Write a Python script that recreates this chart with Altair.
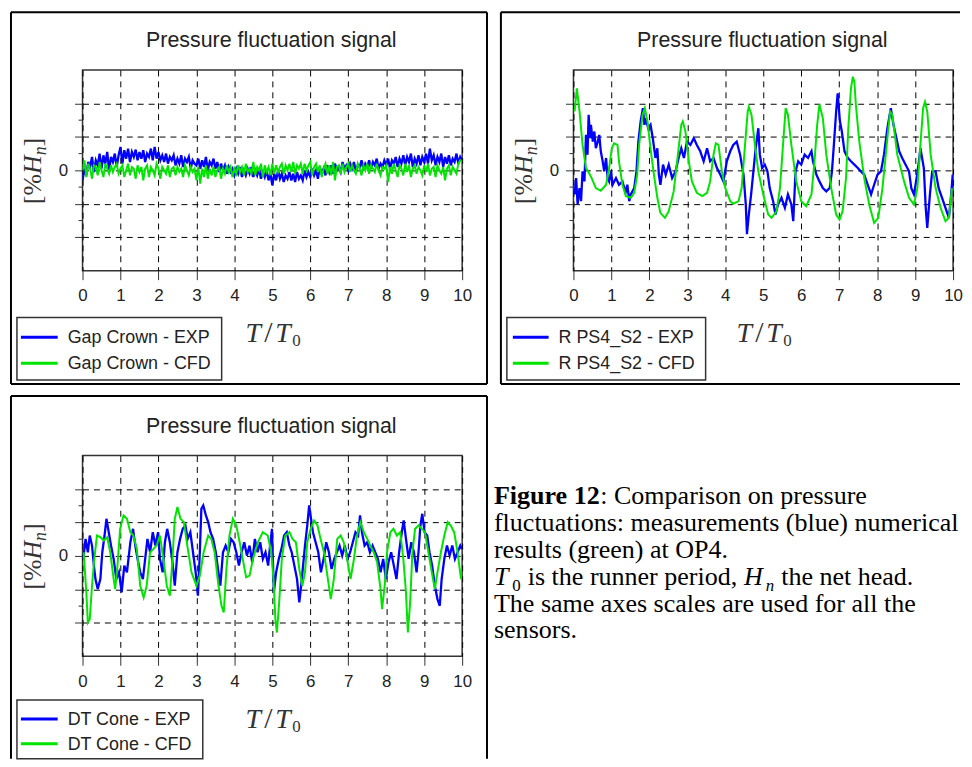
import altair as alt
import pandas as pd

BLUE = "#0000ff"
GREEN = "#00e400"
INK = "#222222"
SANS = "Liberation Sans"
SERIF = "Liberation Serif"
W, H = 382, 202

X_TICKS = [0, 1, 2, 3, 4, 5, 6, 7, 8, 9, 10]
Y_TICKS = [-2, -1, 0, 1, 2]
Y_MINOR = [-1.5, -0.5, 0.5, 1.5]
X_DOMAIN = [0, 10]
Y_DOMAIN = [-3, 3]
TITLE = "Pressure fluctuation signal"

# ---------------- Gap Crown (sampled every 0.05 T/T0) ----------------
GC_T = [round(0.05 * i, 2) for i in range(201)]
GC_EXP = [
    -0.30, 0.05, -0.15, 0.25, 0.10, 0.40, -0.05, 0.30, 0.15, 0.50,
    0.05, 0.45, 0.20, 0.55, 0.00, 0.40, 0.25, 0.50, 0.10, 0.45,
    0.70, 0.20, 0.60, 0.35, 0.65, 0.25, 0.55, 0.40, 0.62, 0.30,
    0.55, 0.35, 0.60, 0.25, 0.50, 0.40, 0.65, 0.30, 0.70, 0.35,
    0.55, 0.30, 0.45, 0.25, 0.50, 0.20, 0.40, 0.30, 0.45, 0.15,
    0.35, 0.20, 0.45, 0.10, 0.35, 0.25, 0.40, 0.05, 0.30, 0.20,
    0.15, 0.35, 0.05, 0.30, 0.10, 0.40, 0.00, 0.25, 0.15, 0.35,
    0.05, 0.25, -0.05, 0.20, 0.00, 0.15, -0.10, 0.10, -0.05, 0.05,
    -0.15, 0.05, -0.10, 0.10, -0.20, 0.00, -0.15, 0.05, -0.10, 0.10,
    -0.20, 0.00, -0.15, 0.05, -0.25, -0.05, -0.20, 0.00, -0.30, -0.10,
    -0.45, -0.10, -0.30, 0.00, -0.25, -0.10, -0.35, -0.15, -0.25, -0.05,
    -0.30, -0.10, -0.35, -0.05, -0.25, -0.15, -0.30, 0.00, -0.20, -0.05,
    -0.20, 0.05, -0.15, 0.00, -0.25, 0.10, -0.10, 0.05, -0.15, 0.15,
    -0.05, 0.15, -0.10, 0.20, 0.00, 0.10, -0.05, 0.25, 0.05, 0.15,
    0.00, 0.20, 0.05, 0.25, -0.05, 0.15, 0.10, 0.30, 0.00, 0.20,
    0.10, 0.30, 0.05, 0.25, 0.15, 0.35, 0.05, 0.20, 0.10, 0.30,
    0.15, 0.35, 0.05, 0.30, 0.20, 0.40, 0.10, 0.35, 0.20, 0.45,
    0.15, 0.40, 0.25, 0.50, 0.10, 0.35, 0.20, 0.45, 0.15, 0.40,
    0.25, 0.50, 0.20, 0.65, 0.30, 0.45, 0.15, 0.40, 0.25, 0.50,
    0.10, 0.40, 0.20, 0.45, 0.15, 0.35, 0.25, 0.50, 0.20, 0.40,
    0.30,
]
GC_CFD = [
    0.00, 0.30, -0.20, 0.20, 0.05, -0.25, 0.15, 0.10, -0.15, 0.25,
    0.00, -0.20, 0.20, 0.05, -0.10, 0.15, -0.05, 0.10, 0.20, -0.10,
    0.05, 0.15, -0.20, 0.00, 0.20, -0.15, 0.10, 0.05, -0.25, 0.15,
    -0.05, 0.10, -0.30, 0.05, 0.15, -0.20, 0.10, 0.00, -0.15, 0.20,
    0.05, -0.25, 0.10, 0.00, -0.10, 0.15, -0.20, 0.05, 0.10, -0.15,
    0.10, -0.05, 0.05, -0.20, 0.15, 0.00, -0.15, 0.10, -0.05, 0.05,
    -0.30, 0.10, -0.40, 0.05, -0.20, 0.15, -0.25, 0.05, -0.15, 0.10,
    -0.20, 0.00, 0.10, -0.25, 0.05, -0.10, 0.15, -0.05, 0.10, -0.20,
    0.05, -0.10, 0.15, -0.05, 0.10, -0.15, 0.20, -0.05, 0.05, -0.10,
    0.25, -0.15, 0.10, 0.00, 0.20, -0.20, 0.15, -0.05, 0.10, -0.15,
    0.20, -0.10, 0.15, -0.05, 0.10, 0.20, -0.10, 0.15, 0.00, 0.20,
    -0.05, 0.25, -0.10, 0.15, 0.05, 0.20, -0.10, 0.20, 0.00, 0.15,
    0.25, -0.15, 0.10, 0.20, -0.05, 0.15, -0.20, 0.05, 0.20, -0.10,
    0.15, -0.15, 0.25, -0.30, 0.10, 0.15, -0.10, 0.20, -0.05, 0.10,
    0.20, -0.05, 0.15, 0.00, -0.10, 0.20, 0.05, -0.15, 0.15, 0.00,
    0.20, -0.10, 0.15, 0.05, -0.05, 0.20, 0.00, -0.15, 0.10, 0.05,
    0.15, -0.35, 0.10, -0.10, 0.20, 0.00, -0.20, 0.15, 0.05, -0.15,
    0.20, -0.05, 0.15, -0.20, 0.05, 0.15, -0.10, 0.10, 0.00, -0.15,
    0.15, -0.05, 0.20, -0.15, 0.05, 0.10, -0.20, 0.15, 0.00, -0.10,
    0.10, -0.30, 0.05, 0.15, -0.15, 0.10, 0.00, -0.10, 0.20, 0.30,
    0.25,
]

# ---------------- R PS4_S2 ----------------
RP_EXP_T = [
    0.03, 0.07, 0.11, 0.16, 0.20, 0.24, 0.29, 0.33, 0.37, 0.40, 0.44, 0.46, 0.51, 0.55,
    0.59, 0.64, 0.68, 0.72, 0.77, 0.81, 0.86, 0.90, 0.94, 0.99, 1.03, 1.12, 1.20, 1.29,
    1.34, 1.38, 1.42, 1.47, 1.51, 1.60, 1.66, 1.71, 1.77, 1.83, 1.87, 1.90, 1.97, 2.03,
    2.09, 2.16, 2.21, 2.25, 2.29, 2.36, 2.43, 2.51, 2.60, 2.69, 2.77, 2.84, 2.91, 2.99,
    3.08, 3.17, 3.25, 3.34, 3.43, 3.52, 3.60, 3.69, 3.78, 3.87, 3.95, 4.04, 4.13, 4.21,
    4.30, 4.39, 4.48, 4.54, 4.57, 4.62, 4.68, 4.74, 4.80, 4.87, 4.91, 4.97, 5.04, 5.11,
    5.17, 5.26, 5.32, 5.39, 5.48, 5.57, 5.65, 5.74, 5.79, 5.85, 5.92, 6.00, 6.09, 6.18,
    6.27, 6.31, 6.40, 6.48, 6.57, 6.66, 6.75, 6.81, 6.86, 6.92, 6.96, 7.02, 7.07, 7.14,
    7.23, 7.31, 7.40, 7.49, 7.57, 7.66, 7.75, 7.84, 7.92, 8.01, 8.10, 8.18, 8.27, 8.36,
    8.43, 8.49, 8.58, 8.66, 8.75, 8.84, 8.90, 8.97, 9.04, 9.10, 9.14, 9.23, 9.28, 9.32,
    9.39, 9.45, 9.54, 9.62, 9.71, 9.80, 9.89, 9.95, 9.99,
]
RP_EXP_V = [
    -0.72, -0.23, -1.02, -0.53, -0.92, -0.03, -0.33, 1.06, 0.47, 1.66, 0.96, 1.36, 0.86, 1.16,
    0.66, 0.86, 1.06, 0.57, 0.27, -0.03, 0.37, -0.23, -0.33, -0.03, -0.43, -0.23, -0.43, -0.33,
    -0.53, -0.63, -0.43, -0.92, -0.72, -0.53, -0.03, 0.86, 1.46, 1.86, 1.36, 1.56, 1.26, 1.36,
    0.96, 0.37, 0.66, -0.13, -0.43, 0.17, -0.13, 0.17, -0.23, -0.03, 0.37, 0.66, 0.37, 0.86,
    0.76, 0.96, 0.76, 0.57, 0.27, 0.66, 0.27, 0.37, 0.07, -0.13, -0.33, 0.27, 0.57, 0.76,
    0.86, 0.47, -0.13, -1.02, -1.91, -1.32, -0.72, -0.03, 0.66, 1.26, 0.47, 0.07, 0.17, -0.03,
    -0.53, -0.92, -1.32, -1.02, -0.82, -1.12, -0.72, -1.02, -1.52, -0.03, 0.27, 0.17, 0.47, 0.37,
    0.57, 0.27, -0.13, -0.33, -0.53, -0.63, -0.53, -0.03, 0.76, 1.76, 2.30, 1.46, 1.16, 0.57,
    0.37, 0.27, 0.17, 0.07, -0.03, -0.13, -0.43, -0.72, -0.43, -0.13, -0.03, 0.47, 1.26, 1.86,
    1.36, 1.06, 0.57, 0.37, 0.17, -0.03, -0.53, -0.72, -0.23, 0.27, 0.66, 0.07, -1.12, -1.72,
    -0.72, -0.03, -0.03, -0.53, -0.82, -1.12, -1.42, -0.72, -0.13,
]
RP_CFD_T = [
    0.03, 0.09, 0.16, 0.24, 0.33, 0.46, 0.59, 0.72, 0.86, 0.94, 1.01, 1.07, 1.16, 1.20,
    1.29, 1.38, 1.51, 1.60, 1.68, 1.73, 1.82, 1.88, 1.95, 2.03, 2.12, 2.21, 2.29, 2.41,
    2.51, 2.64, 2.77, 2.84, 2.88, 2.95, 3.04, 3.12, 3.25, 3.39, 3.52, 3.60, 3.69, 3.75,
    3.82, 3.91, 4.00, 4.13, 4.21, 4.35, 4.43, 4.52, 4.59, 4.62, 4.69, 4.78, 4.87, 5.00,
    5.13, 5.22, 5.35, 5.44, 5.52, 5.59, 5.65, 5.74, 5.87, 6.00, 6.13, 6.27, 6.35, 6.42,
    6.48, 6.57, 6.66, 6.79, 6.92, 7.01, 7.09, 7.18, 7.24, 7.31, 7.36, 7.40, 7.44, 7.53,
    7.66, 7.79, 7.92, 8.03, 8.14, 8.27, 8.34, 8.40, 8.53, 8.71, 8.84, 8.97, 9.06, 9.14,
    9.21, 9.26, 9.32, 9.41, 9.54, 9.67, 9.80, 9.89, 9.97,
]
RP_CFD_V = [
    1.76, 2.45, 1.76, 0.76, 0.07, -0.18, -0.53, -0.61, -0.43, 0.07, 0.66, 0.81, 0.76, 0.27,
    -0.43, -0.77, -0.82, -0.67, -0.13, 0.76, 1.66, 1.86, 1.46, 0.66, -0.13, -0.82, -1.27, -1.42,
    -1.22, -0.63, 0.66, 1.36, 1.46, 1.16, 0.27, -0.33, -0.67, -0.77, -0.67, -0.33, 0.47, 0.81,
    0.76, -0.03, -0.53, -0.92, -1.00, -0.92, -0.53, 0.76, 1.76, 1.90, 1.66, 0.76, -0.03, -0.72,
    -1.32, -1.42, -1.22, -0.53, 0.76, 1.86, 1.66, 0.76, -0.33, -0.92, -1.07, -0.72, 0.27, 1.36,
    1.97, 1.56, 0.47, -0.53, -1.32, -1.47, -1.22, -0.23, 1.26, 2.45, 2.80, 2.65, 1.95, 0.86,
    -0.23, -1.02, -1.57, -1.42, -0.53, 0.96, 1.76, 1.66, 0.47, -0.33, -0.82, -1.02, -0.53, 0.76,
    1.86, 2.05, 1.76, 0.47, -0.53, -1.12, -1.52, -1.42, -0.53,
]

# ---------------- DT Cone ----------------
DT_EXP_T = [
    0.02, 0.08, 0.14, 0.19, 0.25, 0.30, 0.34, 0.40, 0.47, 0.52, 0.58, 0.63, 0.69, 0.75,
    0.82, 0.89, 0.96, 1.03, 1.10, 1.17, 1.26, 1.33, 1.39, 1.45, 1.52, 1.59, 1.65, 1.71,
    1.78, 1.85, 1.92, 1.99, 2.04, 2.11, 2.17, 2.23, 2.30, 2.37, 2.43, 2.50, 2.57, 2.64,
    2.71, 2.77, 2.84, 2.91, 2.98, 3.04, 3.09, 3.13, 3.18, 3.25, 3.31, 3.37, 3.44, 3.51,
    3.58, 3.63, 3.70, 3.77, 3.84, 3.91, 3.98, 4.05, 4.12, 4.19, 4.26, 4.33, 4.40, 4.47,
    4.54, 4.61, 4.68, 4.75, 4.82, 4.89, 4.94, 4.99, 5.04, 5.10, 5.17, 5.24, 5.31, 5.38,
    5.45, 5.51, 5.58, 5.65, 5.71, 5.76, 5.81, 5.86, 5.92, 5.97, 6.02, 6.07, 6.14, 6.21,
    6.28, 6.35, 6.42, 6.49, 6.56, 6.63, 6.70, 6.77, 6.84, 6.91, 6.98, 7.05, 7.12, 7.19,
    7.26, 7.31, 7.36, 7.43, 7.50, 7.57, 7.64, 7.71, 7.78, 7.85, 7.92, 7.99, 8.06, 8.13,
    8.20, 8.27, 8.34, 8.41, 8.46, 8.52, 8.59, 8.66, 8.73, 8.80, 8.85, 8.90, 8.95, 9.01,
    9.08, 9.14, 9.21, 9.28, 9.35, 9.41, 9.46, 9.53, 9.60, 9.67, 9.74, 9.81, 9.88, 9.95,
    9.99,
]
DT_EXP_V = [
    -0.09, 0.51, 0.11, 0.61, 0.31, -0.29, -0.69, -0.99, -0.69, 0.11, 0.61, 1.11, 0.71, 0.31,
    -0.09, -0.69, -0.49, -1.09, -0.29, -0.49, 0.41, 0.81, 0.31, -0.09, -0.49, -0.69, -0.09, 0.51,
    0.11, 0.71, 0.31, 0.71, -0.09, -0.49, 0.41, 0.81, 0.41, -0.19, -0.89, 0.11, 0.51, 0.81,
    0.91, 0.51, 0.71, 0.11, -0.49, -1.19, 0.11, 1.41, 1.51, 1.21, 1.01, 0.71, 0.51, 0.11,
    -0.49, -0.89, 0.11, 0.31, 0.11, 0.51, 0.41, 0.11, -0.29, 0.11, 0.41, 0.01, 0.31, -0.19,
    0.51, 0.11, 0.41, -0.09, 0.11, -0.29, 0.31, 0.81, -1.09, -0.49, -0.09, 0.21, 0.61, 0.71,
    0.31, 0.11, -0.29, -0.69, -1.39, -0.89, -0.29, 0.31, 0.91, 1.51, 1.11, 0.71, 0.41, 0.11,
    -0.49, -0.09, 0.41, 0.11, -0.39, -0.09, 0.11, 0.31, 0.01, 0.31, -0.09, 0.11, 0.41, 0.71,
    0.61, 1.21, 0.71, 0.31, 0.41, 0.11, 0.31, 0.11, -0.09, -0.49, -0.09, -0.69, -0.19, 0.11,
    -0.29, -0.69, 0.11, 0.71, 1.06, 0.51, -0.09, 0.41, 0.11, -0.49, 0.11, 0.91, 1.26, 0.71,
    0.61, 0.11, -0.29, -0.89, -1.29, -1.49, -0.69, -0.09, 0.31, 0.01, 0.31, -0.09, 0.11, 0.31,
    0.21,
]
DT_CFD_T = [
    0.03, 0.10, 0.14, 0.19, 0.25, 0.31, 0.38, 0.47, 0.56, 0.65, 0.73, 0.82, 0.86, 0.92,
    0.99, 1.08, 1.17, 1.26, 1.34, 1.43, 1.52, 1.61, 1.69, 1.78, 1.87, 1.95, 2.04, 2.13,
    2.22, 2.30, 2.37, 2.43, 2.50, 2.58, 2.67, 2.76, 2.87, 3.00, 3.09, 3.19, 3.31, 3.39,
    3.48, 3.57, 3.66, 3.72, 3.79, 3.87, 3.96, 4.05, 4.14, 4.22, 4.31, 4.40, 4.49, 4.62,
    4.75, 4.88, 4.97, 5.03, 5.08, 5.12, 5.18, 5.25, 5.34, 5.45, 5.53, 5.62, 5.71, 5.79,
    5.86, 5.92, 6.01, 6.10, 6.19, 6.27, 6.36, 6.45, 6.54, 6.62, 6.71, 6.80, 6.88, 6.97,
    7.06, 7.15, 7.23, 7.32, 7.41, 7.50, 7.58, 7.67, 7.76, 7.85, 7.89, 7.96, 8.02, 8.11,
    8.19, 8.28, 8.37, 8.45, 8.52, 8.57, 8.63, 8.69, 8.76, 8.85, 8.94, 9.02, 9.11, 9.20,
    9.28, 9.35, 9.44, 9.53, 9.62, 9.70, 9.79, 9.88, 9.97,
]
DT_CFD_V = [
    0.11, -1.09, -1.99, -1.89, -0.89, -0.09, 0.61, 0.56, 0.46, 0.56, 0.11, -0.69, -0.99, -0.29,
    0.81, 1.21, 1.11, 0.71, 0.61, 0.21, -0.89, -1.24, -0.89, 0.11, 0.21, 0.31, 0.61, -0.09,
    -0.89, -1.19, -0.09, 1.11, 1.46, 1.11, 1.01, 0.31, -0.49, -0.89, -0.59, 0.11, 0.61, 0.51,
    0.11, -0.79, -1.49, -1.69, -0.39, 0.61, 1.11, 0.91, 0.41, -0.09, -0.64, -0.59, -0.09, 0.41,
    0.71, 0.61, 0.11, -0.69, -1.89, -2.29, -1.39, -0.09, 0.61, 0.71, 0.51, 0.41, -0.39, -0.89,
    -0.49, 0.41, 0.81, 1.06, 0.91, 0.51, 0.11, -0.59, -1.29, -0.69, 0.51, 0.61, 0.41, -0.09,
    -0.69, -0.09, 0.61, 1.01, 0.71, 0.51, 0.31, 0.11, -0.19, -0.99, -1.59, -0.89, 0.11, 0.71,
    0.81, 0.61, 0.71, -0.09, -1.09, -2.29, -1.39, 0.11, 0.81, 0.91, 0.81, 0.71, 0.11, -0.49,
    -0.99, -0.49, 0.11, 0.61, 1.01, 0.91, 0.71, 0.11, -0.69,
]


def one():
    return pd.DataFrame({"k": [0]})


x_axis = alt.Axis(values=X_TICKS, tickSize=9, labelPadding=8, grid=True,
                  labelFlush=False, labelOverlap=False)
y_axis = alt.Axis(values=Y_TICKS, tickSize=8, labelPadding=7, grid=True,
                  labelExpr="datum.value === 0 ? '0' : ''")


def XE():
    return alt.X("t:Q", scale=alt.Scale(domain=X_DOMAIN, nice=False, zero=False),
                 axis=x_axis, title=None)


def YE():
    return alt.Y("v:Q", scale=alt.Scale(domain=Y_DOMAIN, nice=False, zero=False),
                 axis=y_axis, title=None)


def txt(s, x, y, size, font=SANS, style="normal", weight="normal", align="left",
        baseline="alphabetic", angle=0, color=INK):
    kw = dict(text=s, font=font, fontSize=size, fontStyle=style, fontWeight=weight,
              align=align, baseline=baseline, color=color)
    if angle:
        kw["angle"] = angle
    return alt.Chart(one()).mark_text(**kw).encode(x=alt.value(x), y=alt.value(y))


def hrule(x1, x2, y, color="#000", width=2):
    return alt.Chart(one()).mark_rule(color=color, strokeWidth=width).encode(
        x=alt.value(x1), x2=alt.value(x2), y=alt.value(y))


def vrule(x, y1, y2, color="#000", width=2):
    return alt.Chart(one()).mark_rule(color=color, strokeWidth=width).encode(
        x=alt.value(x), y=alt.value(y1), y2=alt.value(y2))


def panel(exp_t, exp_v, cfd_t, cfd_v, names, border, sides, legend, ly, extra=None):
    layers = []
    bx1, bx2, by1, by2 = border
    if "l" in sides:
        layers.append(vrule(bx1, by1, by2))
    if "t" in sides:
        layers.append(hrule(bx1, bx2, by1))
    if "r" in sides:
        layers.append(vrule(bx2, by1, by2))
    if "b" in sides:
        layers.append(hrule(bx1, bx2, by2))
    exp_df = pd.DataFrame({"t": exp_t, "v": exp_v})
    cfd_df = pd.DataFrame({"t": cfd_t, "v": cfd_v})
    layers.append(alt.Chart(exp_df).mark_line(color=BLUE, strokeWidth=2.3, clip=True).encode(x=XE(), y=YE()))
    layers.append(alt.Chart(cfd_df).mark_line(color=GREEN, strokeWidth=2, clip=True).encode(x=XE(), y=YE()))
    layers.append(alt.Chart(pd.DataFrame({"v": Y_MINOR})).mark_rule(color="#333", strokeWidth=1).encode(
        x=alt.value(-4), x2=alt.value(0), y=YE()))
    # legend box
    lx1, lx2, lnx1, lnx2 = legend
    ly1, ly2, r1, r2 = ly
    layers.append(alt.Chart(one()).mark_rect(fill="white", stroke="#333", strokeWidth=1.5).encode(
        x=alt.value(lx1), x2=alt.value(lx2), y=alt.value(ly1), y2=alt.value(ly2)))
    layers.append(hrule(lnx1, lnx2, r1, BLUE, 3))
    layers.append(hrule(lnx1, lnx2, r2, GREEN, 3))
    layers.append(txt(names[0], lnx2 + 10, r1 + 6, 18))
    layers.append(txt(names[1], lnx2 + 10, r2 + 6, 18))
    # title
    layers.append(txt(TITLE, 190, -23, 21.5, align="center"))
    # x-axis title  T/T0
    layers.append(txt("T", 164, 274, 28, font=SERIF, style="italic", color="#333"))
    layers.append(txt("/", 187, 274, 30, font=SERIF, align="center", color="#333"))
    layers.append(txt("T", 194, 274, 28, font=SERIF, style="italic", color="#333"))
    layers.append(txt("0", 211, 278, 17, font=SERIF, color="#333"))
    # y-axis title  [%H_n]
    layers.append(txt("[%", -42, 135, 26, font=SERIF, angle=270, color="#333"))
    layers.append(txt("H", -42, 104.7, 26, font=SERIF, style="italic", angle=270, color="#333"))
    layers.append(txt("n", -37, 85.9, 18, font=SERIF, style="italic", angle=270, color="#333"))
    layers.append(txt("]", -42, 76.9, 26, font=SERIF, angle=270, color="#333"))
    if extra:
        layers += extra
    return alt.layer(*layers).properties(width=W, height=H)


# caption (positions relative to the bottom panel plot origin)
CX = 414
CAP = 26.2
SUB = 17
caption = [
    txt("Figure 12", CX, 49, CAP, font=SERIF, weight="bold", color="#000"),
    txt(": Comparison on pressure", CX + 107, 49, CAP, font=SERIF, color="#000"),
    txt("fluctuations: measurements (blue) numerical", CX, 76, CAP, font=SERIF, color="#000"),
    txt("results (green) at OP4.", CX, 103, CAP, font=SERIF, color="#000"),
    txt("T", CX, 130, CAP, font=SERIF, style="italic", color="#000"),
    txt("0", CX + 18.5, 136, SUB, font=SERIF, color="#000"),
    txt("is the runner period,", CX + 34, 130, CAP, font=SERIF, color="#000"),
    txt("H", CX + 251.5, 130, CAP, font=SERIF, style="italic", color="#000"),
    txt("n", CX + 273.5, 136, SUB, font=SERIF, style="italic", color="#000"),
    txt("the net head.", CX + 289, 130, CAP, font=SERIF, color="#000"),
    txt("The same axes scales are used for all the", CX, 157, CAP, font=SERIF, color="#000"),
    txt("sensors.", CX, 184, CAP, font=SERIF, color="#000"),
]

LEG_TOP = (249, 312, 269, 295)
LEG_BOT = (246, 305, 265, 290)

tl = panel(GC_T, GC_EXP, GC_T, GC_CFD, ["Gap Crown - EXP", "Gap Crown - CFD"],
           (-72, 407, -58, 316), "ltrb", (-66, 140, -62, -25), LEG_TOP)
tr = panel(RP_EXP_T, RP_EXP_V, RP_CFD_T, RP_CFD_V, ["R PS4_S2 - EXP", "R PS4_S2 - CFD"],
           (-73, 389, -58, 316), "ltb", (-67, 133, -61, -25), LEG_TOP)
bl = panel(DT_EXP_T, DT_EXP_V, DT_CFD_T, DT_CFD_V, ["DT Cone - EXP", "DT Cone - CFD"],
           (-72, 407, -60, 305), "ltr", (-66, 121, -62, -25), LEG_BOT, extra=caption)

chart = alt.vconcat(alt.hconcat(tl, tr, spacing=10), bl, spacing=8).properties(
    padding={"left": 1, "top": 0, "right": 0, "bottom": 0}
).configure_view(
    stroke="#333", strokeWidth=1.5
).configure_axis(
    domain=False, gridColor="#000", gridDash=[6, 5], gridWidth=1, gridOpacity=1,
    tickColor="#333", tickWidth=1, labelFont=SANS, labelFontSize=17, labelColor=INK
)

chart.save("out.html", embed_options={"renderer": "svg", "actions": False})
